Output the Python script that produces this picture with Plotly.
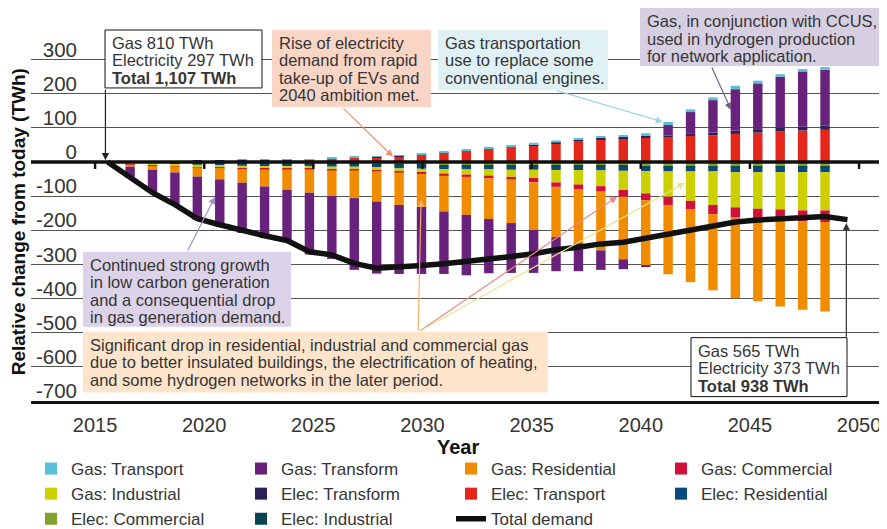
import plotly.graph_objects as go

# Periods: the total-demand line runs from "today" to the end year,
# the stacked bars cover the years in between.
line_years = list(range(2016, 2050))
bar_years = line_years[1:-1]

# Change from today by sector (TWh)
elec_commercial = [-2, -3, -3, -4, -5, -5, -5, -5, -5, -6, -6, -7, -8, -8, -9, -9,
                   -9, -10, -10, -10, -10, -11, -11, -12, -12, -12, -12, -13, -13, -13, -13, -13]
elec_industrial = [-1, -1, -1, -1, -1, -2, -2, -2, -2, -2, -2, -2, -2, -3, -3, -3,
                   -3, -3, -3, -3, -3, -3, -3, -3, -3, -3, -3, -3, -3, -3, -3, -3]
elec_residential = [-1, -2, -2, -3, -4, -4, -5, -5, -5, -6, -6, -7, -9, -9, -9, -10,
                    -10, -10, -10, -11, -11, -11, -12, -12, -13, -13, -13, -14, -14, -14, -14, -14]
gas_industrial = [-3, -5, -6, -7, -7, -8, -8, -8, -8, -8, -8, -8, -8, -10, -13, -15,
                  -18, -21, -24, -36, -42, -46, -56, -65, -74, -86, -98, -103, -107, -109, -112, -112]
gas_commercial = [-1, -1, -1, -1, -1, -2, -2, -2, -2, -3, -3, -3, -4, -5, -7, -7,
                  -8, -8, -13, -13, -15, -16, -20, -20, -24, -24, -27, -30, -28, -30, -32, -34]
gas_residential = [-6, -11, -18, -27, -33, -40, -50, -60, -68, -74, -81, -89, -95, -97, -104, -111,
                   -119, -127, -139, -147, -157, -172, -183, -192, -203, -214, -223, -236, -243, -254, -259, -262]
gas_transform = [-33, -67, -95, -127, -138, -147, -151, -151, -181, -185, -210, -211, -202, -196, -183, -177,
                 -159, -146, -126, -100, -82, -57, -29, -4, 31, 62, 95, 121, 134, 149, 161, 164]
elec_transform = [0, 0, 1, 4, 5, 6, 5, 2, 1, 1, 1, 1, 1, 1, 1, 1,
                  1, 1, 2, 2, 3, 4, 4, 4, 6, 8, 8, 10, 10, 12, 12, 12]
elec_transport = [0, 0, 0, 0, 0, 1, 2, 5, 6, 9, 12, 14, 17, 22, 27, 32,
                  39, 44, 49, 55, 62, 66, 69, 72, 71, 76, 78, 82, 86, 89, 92, 94]
gas_transport = [0, 0, 0, 0, 0, 0, 0, 1, 1, 2, 2, 2, 2, 2, 3, 3,
                 4, 4, 5, 6, 5, 6, 6, 8, 9, 8, 8, 10, 8, 7, 7, 8]

total_demand = [0, -47, -90, -125, -166, -184, -201, -216, -230, -263, -272, -297, -311, -309, -303, -298,
                -292, -285, -277, -269, -257, -250, -240, -235, -224, -212, -198, -187, -176, -170, -166, -161,
                -160, -169]

y_ticks = [300, 200, 100, 0, -100, -200, -300, -400, -500, -600, -700]
year_ticks = [2015, 2020, 2025, 2030, 2035, 2040, 2045, 2050]

FONT = "Liberation Sans, Arial, sans-serif"
TEXT = "#353535"

# the browser keeps its default 8px body margin round the figure
PAD = 8
W, H = 887 - PAD, 529 - PAD
PLOT_L, PLOT_R, PLOT_T, PLOT_B = 31 - PAD, 884 - PAD, 40 - PAD, 401.4 - PAD
Y_RANGE = [-700, 357]

# stacking order (nearest zero first); legend order via legendrank
series = [
    ("Elec: Commercial", elec_commercial, "#84a12c", 9),
    ("Elec: Industrial", elec_industrial, "#0b4650", 10),
    ("Elec: Residential", elec_residential, "#064b7b", 8),
    ("Gas: Industrial", gas_industrial, "#ccd000", 5),
    ("Gas: Commercial", gas_commercial, "#d2103c", 4),
    ("Gas: Residential", gas_residential, "#f18c00", 3),
    ("Elec: Transport", elec_transport, "#e4261b", 7),
    ("Elec: Transform", elec_transform, "#2b2157", 6),
    ("Gas: Transform", gas_transform, "#69227c", 2),
    ("Gas: Transport", gas_transport, "#58c1d5", 1),
]

fig = go.Figure()
for name, values, color, rank in series:
    fig.add_trace(go.Bar(
        x=bar_years, y=values, name=name, width=0.42,
        marker={"color": color, "line": {"width": 0}},
        legendrank=rank,
    ))

fig.add_trace(go.Scatter(
    x=line_years, y=total_demand, name="Total demand", mode="lines",
    line={"color": "#111111", "width": 5.5}, legendrank=11,
))

# the year labels sit slightly off the period positions in the original
X_RANGE = [2012.58, 2050.63]
tick_pos = [2016 + (21.83 * (t - 2015) - 12.6) / 22.42 for t in year_ticks]

fig.update_layout(
    width=W, height=H,
    margin={"l": PLOT_L, "r": W - PLOT_R, "t": PLOT_T, "b": H - PLOT_B, "autoexpand": False},
    paper_bgcolor="white", plot_bgcolor="white",
    barmode="relative",
    font={"family": FONT, "color": TEXT},
    xaxis={
        "range": X_RANGE, "tickmode": "array", "tickvals": tick_pos,
        "ticktext": [str(t) for t in year_ticks], "ticks": "", "ticklabelstandoff": 4,
        "showline": True, "linewidth": 2.5, "linecolor": "#111111", "showgrid": False,
        "zeroline": False, "tickfont": {"size": 20, "color": TEXT},
    },
    yaxis={
        "range": Y_RANGE, "anchor": "free", "position": (79 - 31) / (884 - 31),
        "tickmode": "array", "tickvals": y_ticks, "ticktext": [str(v) for v in y_ticks],
        "ticks": "", "showline": False, "ticklabelshift": -10, "ticklabelstandoff": 2,
        "showgrid": True, "gridcolor": "#555555", "gridwidth": 1, "zeroline": False,
        "tickfont": {"size": 20.5, "color": TEXT},
    },
    legend={
        "orientation": "h", "x": 0.0, "xanchor": "left",
        "yref": "container", "y": 1 - 443 / H, "yanchor": "top",
        "entrywidth": 165, "entrywidthmode": "pixels",
        "font": {"size": 17, "color": TEXT}, "traceorder": "normal",
    },
)

# heavy zero line, drawn over the bars
fig.add_shape(type="line", xref="paper", yref="y", x0=0, x1=1, y0=0, y1=0,
              line={"color": "#111111", "width": 3.5}, layer="above")
# year tick marks hanging from the zero line and from the bottom axis
for t in tick_pos:
    for base, length, width in ((0, 7, 2.5), (Y_RANGE[0], 9, 2)):
        fig.add_shape(type="line", xref="x", yref="y", ysizemode="pixel", yanchor=base,
                      x0=t, x1=t, y0=0, y1=-length, line={"color": "#111111", "width": width},
                      layer="above")


def px_x(p):
    """Reference-picture pixel -> paper x."""
    return (p - PAD - PLOT_L) / (PLOT_R - PLOT_L)


def px_y(p):
    """Reference-picture pixel -> paper y."""
    return (PLOT_B - (p - PAD)) / (PLOT_B - PLOT_T)


# text boxes: lines, box extent in reference pixels, fill, border
boxes = [
    (["Gas 810 TWh", "Electricity 297 TWh", "<b>Total 1,107 TWh</b>"],
     (105, 30, 262, 88), "white", "#111111"),
    (["Rise of electricity", "demand from rapid", "take-up of EVs and", "2040 ambition met."],
     (272, 30, 431, 107), "#f9d5c6", None),
    (["Gas transportation", "use to replace some", "conventional engines."],
     (438, 30, 608, 90), "#dff1f5", None),
    (["Gas, in conjunction with CCUS,", "used in hydrogen production", "for network application."],
     (640, 8, 883, 66), "#d6cee1", None),
    (["Continued strong growth", "in low carbon generation", "and a consequential drop",
      "in gas generation demand."],
     (83, 252, 291, 327), "#dcd3e8", None),
    (["Significant drop in residential, industrial and commercial gas",
      "due to better insulated buildings, the electrification of heating,",
      "and some hydrogen networks in the later period."],
     (83, 332, 548, 393), "#fde4cb", None),
    (["Gas 565 TWh", "Electricity 373 TWh", "<b>Total 938 TWh</b>"],
     (691, 338, 847, 397), "white", "#111111"),
]
for lines, (x0, y0, x1, y1), fill, border in boxes:
    fig.add_shape(
        type="rect", xref="paper", yref="paper",
        x0=px_x(x0), x1=px_x(x1), y0=px_y(y0), y1=px_y(y1),
        fillcolor=fill, line={"color": border or fill, "width": 1 if border else 0},
        layer="above",
    )
    for i, line in enumerate(lines):
        fig.add_annotation(
            text=line, xref="paper", yref="paper", x=px_x(x0 + 5), y=px_y(y0 + 13 + 17.5 * i),
            xanchor="left", yanchor="middle", align="left", showarrow=False,
            font={"size": 16.5, "color": TEXT},
        )

# arrows: (head x, head y, tail x, tail y, colour) in data units
arrows = [
    (line_years[0] - 0.1, total_demand[0] + 5, line_years[0] - 0.1, 216, "#222222"),
    (2028.73, 15, 2026.45, 161, "#f08f74"),
    (2040.77, 117, 2035.96, 210, "#9fd6e4"),
    (2043.81, 152, 2042.92, 281, "#6e6187"),
    (2020.79, -102, 2019.54, -264, "#a48fc4"),
    (2029.98, -111, 2029.85, -498, "#f7b16a"),
    (2038.72, -102, 2029.85, -498, "#eb8a86"),
    (2041.75, -61, 2029.85, -498, "#e8e28a"),
    (line_years[-1] - 0.05, total_demand[-1] - 10, line_years[-1] - 0.05, -516, "#333333"),
]
for hx, hy, tx, ty, color in arrows:
    fig.add_annotation(
        x=hx, y=hy, ax=tx, ay=ty, xref="x", yref="y", axref="x", ayref="y",
        text="", showarrow=True, arrowhead=2, arrowsize=1.2, arrowwidth=1.2, arrowcolor=color,
    )

# axis titles
fig.add_annotation(
    text="<b>Year</b>", xref="paper", yref="paper", x=px_x(458), y=px_y(447),
    xanchor="center", yanchor="middle", showarrow=False, font={"size": 20, "color": "#111111"},
)
fig.add_annotation(
    text="<b>Relative change from today (TWh)</b>", xref="paper", yref="paper",
    x=px_x(18.5), y=px_y(222), xanchor="center", yanchor="middle", textangle=-90, showarrow=False,
    font={"size": 19, "color": "#111111"},
)

fig.write_html("out.html")
